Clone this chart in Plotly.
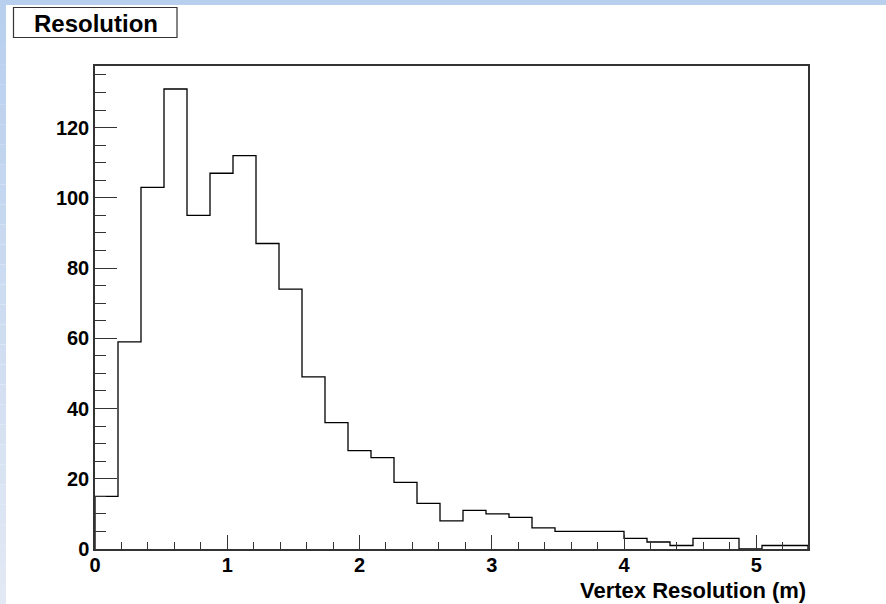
import plotly.graph_objects as go

# Histogram data (31 bins from 0 to ~5.39 m)
x_min = 0.0
x_max = 5.391
n_bins = 31
counts = [15, 59, 103, 131, 95, 107, 112, 87, 74, 49, 36, 28, 26, 19, 13, 8,
          11, 10, 9, 6, 5, 5, 5, 3, 2, 1, 3, 3, 0, 1, 1]
y_ticks = [0, 20, 40, 60, 80, 100, 120]
x_ticks = [0, 1, 2, 3, 4, 5]
title_text = "Resolution"
x_title = "Vertex Resolution (m)"

W, H = 886, 604
L, R, T, B = 95, 78, 66, 55
pw, ph = W - L - R, H - T - B

bw = (x_max - x_min) / n_bins
edges = [x_min + i * bw for i in range(n_bins + 1)]
xs = [edges[0]] + edges
ys = [0] + counts + [0]
y_max = max(counts) * 1.05

def px2paper_x(px):
    return (px - L) / pw

def px2paper_y(py):
    return (H - B - py) / ph

font_family = "Liberation Sans, Arial, sans-serif"

fig = go.Figure()
fig.add_trace(go.Scatter(x=xs, y=ys, mode="lines", line=dict(shape="hv", color="black", width=1.3),
                         hoverinfo="skip", showlegend=False))

shapes = []
# Top blue band
shapes.append(dict(type="rect", xref="paper", yref="paper",
                   x0=px2paper_x(0), x1=px2paper_x(W), y0=px2paper_y(5), y1=px2paper_y(0),
                   fillcolor="#b8cfee", line=dict(width=0), layer="below"))
# Left gradient band
n_strips = 30
c0 = (0xb8, 0xcf, 0xee)
c1 = (0xe2, 0xe9, 0xf4)
for i in range(n_strips):
    t = i / (n_strips - 1)
    c = tuple(int(round(c0[k] + (c1[k] - c0[k]) * t)) for k in range(3))
    y0p = 5 + (H - 5) * i / n_strips
    y1p = 5 + (H - 5) * (i + 1) / n_strips
    shapes.append(dict(type="rect", xref="paper", yref="paper",
                       x0=px2paper_x(0), x1=px2paper_x(6), y0=px2paper_y(y1p), y1=px2paper_y(y0p),
                       fillcolor="rgb(%d,%d,%d)" % c, line=dict(width=0), layer="below"))
# Title box
shapes.append(dict(type="rect", xref="paper", yref="paper",
                   x0=px2paper_x(13.5), x1=px2paper_x(177), y0=px2paper_y(37.5), y1=px2paper_y(7.5),
                   fillcolor="white", line=dict(color="#333333", width=1.2)))

annotations = [
    dict(text="<b>%s</b>" % title_text, xref="paper", yref="paper",
         x=px2paper_x(96), y=px2paper_y(23), xanchor="center", yanchor="middle",
         showarrow=False, font=dict(family=font_family, size=24, color="black")),
    dict(text="<b>%s</b>" % x_title, xref="paper", yref="paper",
         x=px2paper_x(808), y=px2paper_y(590), xanchor="right", yanchor="middle",
         showarrow=False, font=dict(family=font_family, size=22, color="black")),
]

fig.update_layout(
    width=W, height=H,
    margin=dict(l=L, r=R, t=T, b=B, pad=0),
    paper_bgcolor="white", plot_bgcolor="white",
    shapes=shapes, annotations=annotations,
    xaxis=dict(range=[x_min, x_max], tickmode="array", tickvals=x_ticks,
               ticktext=["<b>%d</b>" % v for v in x_ticks],
               ticks="inside", ticklen=14, tickwidth=1.3, tickcolor="#333333",
               ticklabelstandoff=-3,
               minor=dict(dtick=0.2, ticks="inside", ticklen=7, tickwidth=1.3, tickcolor="#333333", showgrid=False),
               showgrid=False, zeroline=False, showline=True, linecolor="#333333", linewidth=1.5, mirror=True,
               tickfont=dict(family=font_family, size=20, color="black")),
    yaxis=dict(range=[0, y_max], tickmode="array", tickvals=y_ticks,
               ticktext=["<b>%d</b>" % v for v in y_ticks],
               ticks="inside", ticklen=22, tickwidth=1.3, tickcolor="#333333",
               minor=dict(dtick=5, ticks="inside", ticklen=11, tickwidth=1.3, tickcolor="#333333", showgrid=False),
               showgrid=False, zeroline=False, showline=True, linecolor="#333333", linewidth=1.5, mirror=True,
               tickfont=dict(family=font_family, size=20, color="black")),
)

fig.write_html("out.html", config={"displayModeBar": False},
               post_script="document.body.style.margin='0px';document.body.style.overflow='hidden';")
